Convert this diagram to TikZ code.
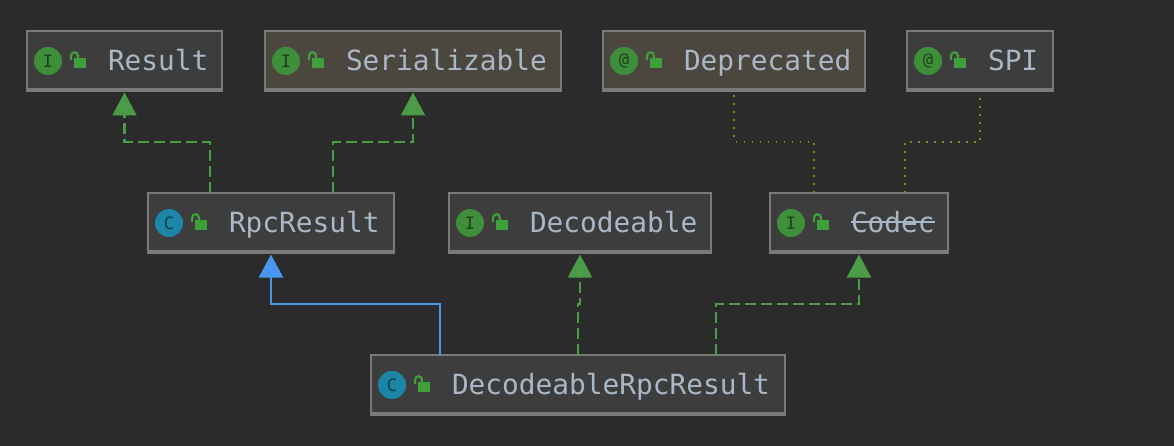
\documentclass[tikz,border=0pt]{standalone}
\usepackage{fontspec}
\setmonofont{DejaVu Sans Mono}
\usetikzlibrary{arrows.meta}
\definecolor{bgdark}{HTML}{2B2B2B}
\definecolor{boxfill}{HTML}{3D3D3D}
\definecolor{boxtint}{HTML}{4B473E}
\definecolor{boxline}{HTML}{7A7A7A}
\definecolor{labeltext}{HTML}{A9B7C6}
\definecolor{igreen}{HTML}{3F8F3A}
\definecolor{cblue}{HTML}{1C86A8}
\definecolor{lockgreen}{HTML}{3FA03B}
\definecolor{implgreen}{HTML}{4C9C47}
\definecolor{extblue}{HTML}{4A96EE}
\definecolor{annolive}{HTML}{7C8C1E}
\tikzset{
  umlbox/.style={draw=boxline,line width=2pt,rectangle,inner sep=0pt,outer sep=0pt,minimum height=60pt},
  umlicon/.style={circle,inner sep=0pt,outer sep=0pt,minimum size=28pt,font=\fontsize{17}{17}\selectfont\ttfamily},
  umltext/.style={anchor=base west,inner sep=0pt,outer sep=0pt,text=labeltext,font=\fontsize{27.8}{28}\selectfont\ttfamily},
  realize/.style={draw=implgreen,line width=2.2pt,dash pattern=on 11pt off 5pt,-{Triangle[width=24pt,length=23pt,fill=implgreen]},shorten >=1.5pt},
  extend/.style={draw=extblue,line width=2.2pt,-{Triangle[width=24pt,length=23pt,fill=extblue]},shorten >=1.5pt},
  annotated/.style={draw=annolive,line width=1.5pt,dash pattern=on 1.5pt off 6.5pt},
  pics/padlock/.style={code={
    \fill[lockgreen] (-5,-3) rectangle (7,7);
    \draw[lockgreen,line width=2.2pt] (-8,-1) -- (-8,-5) .. controls (-8,-10) and (-1,-10) .. (-1,-5) -- (-1,-3);
  }}
}
% box, icon, padlock and label of one class
\newcommand{\classbox}[8]{
  \node[umlbox,fill=#5,minimum width=#4pt] (#1) at (#2,#3) {};
  \draw[boxline,line width=3.5pt] ([yshift=1pt]#1.south west) -- ([yshift=1pt]#1.south east);
  \node[umlicon,fill=#7,text=#7!45!black] (#1-icon) at ([xshift=21pt]#1.west) {#6};
  \path ([xshift=52pt]#1.west) pic {padlock};
  \node[umltext] (#1-text) at ([xshift=81pt,yshift=-9.5pt]#1.west) {#8};
}
\begin{document}
\begin{tikzpicture}[x=1pt,y=-1pt]
\useasboundingbox (0,0) rectangle (1174,446);
\fill[bgdark] (0,0) rectangle (1174,446);
\classbox{result}{124.5}{61}{195}{boxfill}{I}{igreen}{Result}
\classbox{serial}{413}{61}{296}{boxtint}{I}{igreen}{Serializable}
\classbox{deprecated}{734}{61}{262}{boxtint}{@}{igreen}{Deprecated}
\classbox{spi}{980}{61}{146}{boxfill}{@}{igreen}{SPI}
\classbox{rpc}{271}{223}{246}{boxfill}{C}{cblue}{RpcResult}
\classbox{decode}{580}{223}{262}{boxfill}{I}{igreen}{Decodeable}
\classbox{codec}{859}{223}{178}{boxfill}{I}{igreen}{Codec}
\classbox{decoderpc}{578}{385}{414}{boxfill}{C}{cblue}{DecodeableRpcResult}
\draw[labeltext,line width=2pt] (codec-text.west) -- (codec-text.east);
\draw[realize] ([xshift=62pt]rpc.north west) -- ++(0,-51) -| (result.south);
\draw[realize] ([xshift=185pt]rpc.north west) -- ++(0,-51) -| (serial.south);
\draw[annotated] ([xshift=44pt]codec.north west) -- ++(0,-51) -| (deprecated.south);
\draw[annotated] ([xshift=135pt]codec.north west) -- ++(0,-51) -| (spi.south);
\draw[extend] ([xshift=69pt]decoderpc.north west) -- ++(0,-51) -| (rpc.south);
\draw[realize] (decoderpc.north) -- ++(0,-51) -| (decode.south);
\draw[realize] ([xshift=345pt]decoderpc.north west) -- ++(0,-51) -| (codec.south);
\end{tikzpicture}
\end{document}
